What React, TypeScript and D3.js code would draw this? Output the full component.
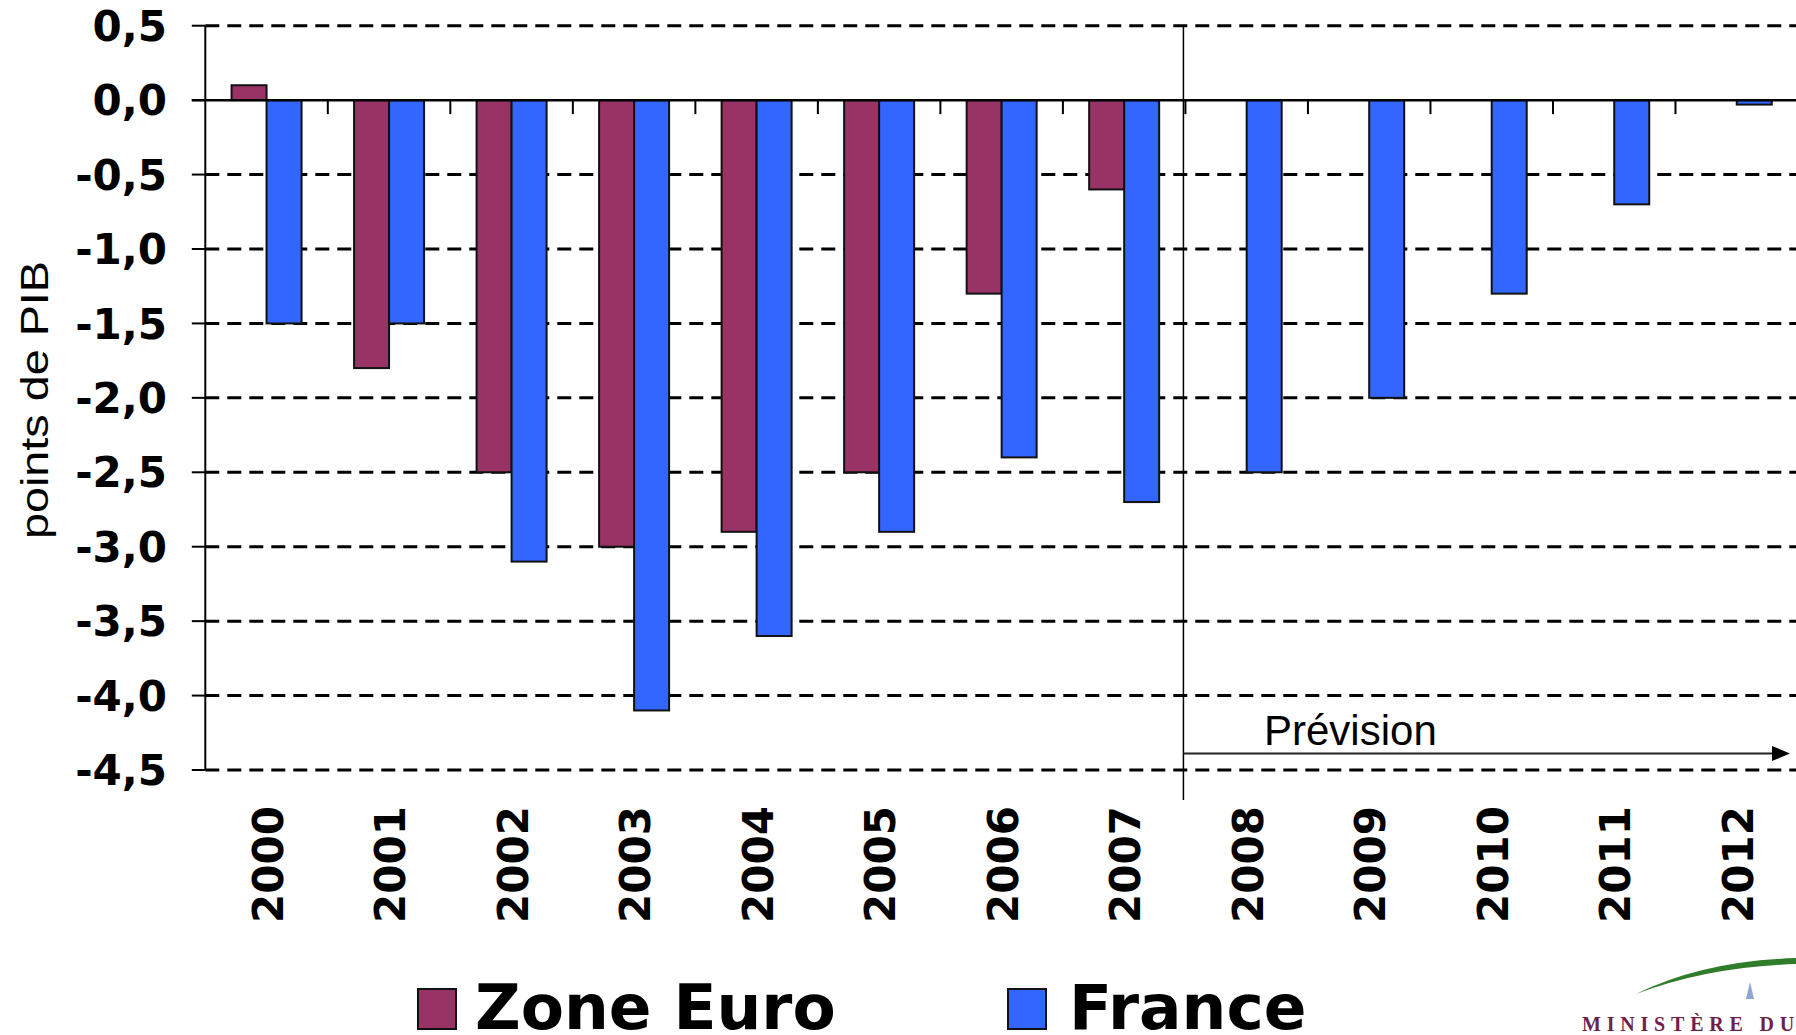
import React from 'react';
import * as d3 from 'd3';

const years = ['2000', '2001', '2002', '2003', '2004', '2005', '2006', '2007', '2008', '2009', '2010', '2011', '2012'];
const zoneEuro: (number | null)[] = [0.1, -1.8, -2.5, -3.0, -2.9, -2.5, -1.3, -0.6, null, null, null, null, null];
const france: (number | null)[] = [-1.5, -1.5, -3.1, -4.1, -3.6, -2.9, -2.4, -2.7, -2.5, -2.0, -1.3, -0.7, -0.03];
const yTicks = [0.5, 0, -0.5, -1, -1.5, -2, -2.5, -3, -3.5, -4, -4.5];
const seriesNames = ['Zone Euro', 'France'];
const seriesColors = ['#993366', '#3366FF'];
const forecastStart = '2008';
const yTitle = 'points de PIB';
const forecastLabel = 'Prévision';
const logoText = 'MINISTÈRE DU';

const W = 1796;
const H = 1035;
const left = 205.3;
const right = 1798;
const top = 25.7;
const bottom = 770;

export default function App() {
  const x = d3.scaleBand<string>().domain(years).range([left, right]).padding(0);
  const y = d3.scaleLinear().domain([-4.5, 0.5]).range([bottom, top]);
  const bw = x.bandwidth();
  const barW = bw * 0.2857;
  const y0 = y(0);
  const fmt = (v: number) => d3.format('.1f')(v).replace('.', ',').replace('−', '-');
  const sepX = (x(forecastStart) as number) - 2;
  const arrowY = y(-4.5) - 16.5;

  const bars: { key: string; x: number; y: number; h: number; color: string }[] = [];
  years.forEach((yr, i) => {
    const c = (x(yr) as number) + bw / 2;
    const sub = d3.scaleBand<string>().domain(seriesNames).range([c - barW, c + barW]);
    [zoneEuro[i], france[i]].forEach((v, s) => {
      if (v === null) return;
      const a = y(v);
      bars.push({
        key: yr + s,
        x: sub(seriesNames[s]) as number,
        y: Math.min(a, y0),
        h: Math.abs(a - y0),
        color: seriesColors[s],
      });
    });
  });

  return (
    <div style={{ position: 'absolute', left: 0, top: 0 }}>
      <svg width={W} height={H} style={{ display: 'block', background: '#fff' }}>
        {/* gridlines */}
        {yTicks.filter((t) => t !== 0).map((t) => (
          <line key={'g' + t} x1={left} x2={W} y1={y(t)} y2={y(t)} stroke="#000" strokeWidth={3} strokeDasharray="14 8" />
        ))}
        {/* y axis */}
        <line x1={left} x2={left} y1={top} y2={bottom} stroke="#000" strokeWidth={2} />
        {yTicks.map((t) => (
          <g key={'t' + t}>
            <line x1={left - 13.5} x2={left} y1={y(t)} y2={y(t)} stroke="#000" strokeWidth={2} />
            <text x={167} y={y(t)} dy="0.36em" textAnchor="end" fontFamily="DejaVu Sans" fontWeight="bold" fontSize={42}>
              {fmt(t)}
            </text>
          </g>
        ))}
        {/* bars */}
        {bars.map((b) => (
          <rect key={b.key} x={b.x} y={b.y} width={barW} height={b.h} fill={b.color} stroke="#111" strokeWidth={2} />
        ))}
        {/* zero line */}
        <line x1={left - 13.5} x2={W} y1={y0} y2={y0} stroke="#000" strokeWidth={2.5} />
        {years.slice(1).map((yr) => (
          <line key={'ct' + yr} x1={x(yr) as number} x2={x(yr) as number} y1={y0} y2={y0 + 14} stroke="#000" strokeWidth={2} />
        ))}
        {/* x labels */}
        {years.map((yr) => {
          const c = (x(yr) as number) + bw / 2 + 16;
          return (
            <text key={'xl' + yr} transform={`translate(${c},806) rotate(-90)`} textAnchor="end" fontFamily="DejaVu Sans" fontWeight="bold" fontSize={42}>
              {yr}
            </text>
          );
        })}
        {/* forecast separator */}
        <line x1={sepX} x2={sepX} y1={top} y2={800} stroke="#000" strokeWidth={1.5} />
        <line x1={sepX} x2={1774} y1={arrowY} y2={arrowY} stroke="#222" strokeWidth={2} />
        <path d={`M1772,${arrowY - 7.5} L1790,${arrowY} L1772,${arrowY + 7.5} Z`} fill="#000" />
        <text x={1264} y={745} fontFamily="Liberation Sans" fontSize={42}>{forecastLabel}</text>
        {/* y title */}
        <text transform="translate(48,400) rotate(-90)" textAnchor="middle" fontFamily="Liberation Sans" fontSize={38} textLength={278} lengthAdjust="spacingAndGlyphs">
          {yTitle}
        </text>
        {/* legend */}
        <rect x={418} y={989} width={38} height={40} fill={seriesColors[0]} stroke="#111" strokeWidth={2} />
        <text x={475} y={1029} fontFamily="DejaVu Sans" fontWeight="bold" fontSize={63}>{seriesNames[0]}</text>
        <rect x={1008} y={989} width={38} height={40} fill={seriesColors[1]} stroke="#111" strokeWidth={2} />
        <text x={1069} y={1029} fontFamily="DejaVu Sans" fontWeight="bold" fontSize={63}>{seriesNames[1]}</text>
        {/* logo */}
        <path d="M1636,994 Q1705,960 1800,958 L1800,964 Q1710,966 1636,994 Z" fill="#2f7d2a" />
        <path d="M1750,982 L1754,999 L1746,999 Z" fill="#8fa6d6" />
        <text x={1582} y={1031} fontFamily="Liberation Serif" fontWeight="bold" fontSize={20} letterSpacing={5.8} fill="#6e1f4c">
          {logoText}
        </text>
      </svg>
    </div>
  );
}
